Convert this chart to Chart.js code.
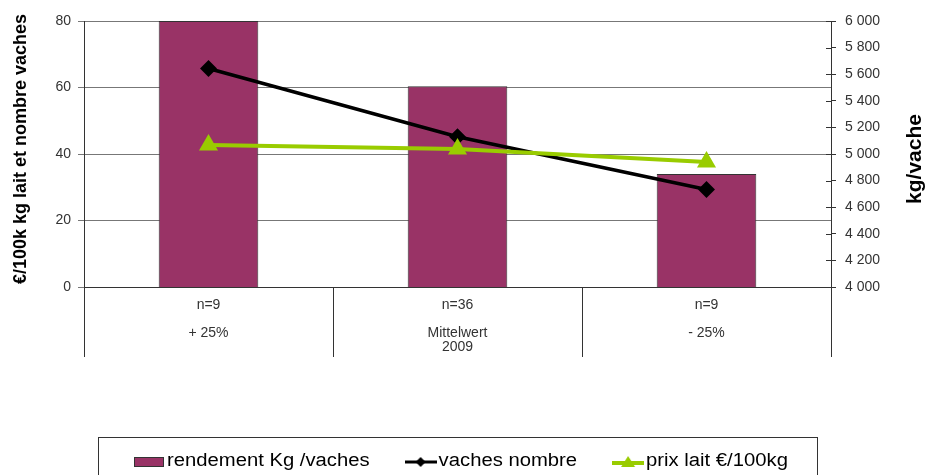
<!DOCTYPE html>
<html>
<head>
<meta charset="UTF-8">
<script src="https://cdn.jsdelivr.net/npm/chart.js"></script>
<style>
  body { margin: 0; background: #fff; }
  canvas { display: block; }
</style>
</head>
<body>
<canvas id="chart" width="929" height="475"></canvas>
<script>
// data
const groupSizes = ['n=9', 'n=36', 'n=9'];
const groupNames = [['+ 25%'], ['Mittelwert', '2009'], ['- 25%']];
const rendement = [6000, 5510, 4850];     // kg/vache, right axis
const vachesNombre = [65.7, 45.2, 29.3];  // left axis
const prixLait = [42.7, 41.5, 37.6];      // left axis
const leftTicks = [0, 20, 40, 60, 80];
const rightTicks = [4000, 4200, 4400, 4600, 4800, 5000, 5200, 5400, 5600, 5800, 6000];

const FONT = "'Liberation Sans', Arial, sans-serif";
const labels = groupSizes.map((n, i) => [n, ''].concat(groupNames[i]));

function fmt(v) { return String(v).replace(/\B(?=(\d{3})+(?!\d))/g, ' '); }

// small pictures for the legend
function legendMarker(type) {
  const c = document.createElement('canvas');
  c.width = 32; c.height = 16;
  const g = c.getContext('2d');
  if (type === 'bar') {
    c.width = 31;
    g.fillStyle = '#993366'; g.fillRect(0, 3, 30, 10);
    g.strokeStyle = '#333'; g.lineWidth = 1; g.strokeRect(0.5, 3.5, 29, 9);
  } else if (type === 'diamond') {
    g.strokeStyle = '#000'; g.lineWidth = 3;
    g.beginPath(); g.moveTo(0, 8); g.lineTo(32, 8); g.stroke();
    g.fillStyle = '#000';
    g.beginPath(); g.moveTo(16, 3); g.lineTo(21, 8); g.lineTo(16, 13); g.lineTo(11, 8); g.closePath(); g.fill();
  } else {
    g.strokeStyle = '#99cc00'; g.lineWidth = 4;
    g.beginPath(); g.moveTo(0, 9); g.lineTo(32, 9); g.stroke();
    g.fillStyle = '#99cc00';
    g.beginPath(); g.moveTo(16, 2); g.lineTo(23, 13); g.lineTo(9, 13); g.closePath(); g.fill();
  }
  return c;
}

const extras = {
  id: 'extras',
  afterDraw(chart) {
    const ctx = chart.ctx;
    const y2 = chart.scales.y2;
    // right axis ticks cross the axis line
    ctx.save();
    ctx.strokeStyle = '#333'; ctx.lineWidth = 1;
    rightTicks.forEach(v => {
      const py = Math.round(y2.getPixelForValue(v)) + 0.5;
      ctx.beginPath(); ctx.moveTo(y2.left - 5, py); ctx.lineTo(y2.left, py); ctx.stroke();
    });
    ctx.restore();

    // axis titles, both read bottom to top
    ctx.save();
    ctx.fillStyle = '#000';
    ctx.textAlign = 'center'; ctx.textBaseline = 'middle';
    ctx.translate(21, 149); ctx.rotate(-Math.PI / 2);
    ctx.font = 'bold 18px ' + FONT;
    ctx.fillText('€/100k kg lait et nombre vaches', 0, 0);
    ctx.restore();
    ctx.save();
    ctx.fillStyle = '#000';
    ctx.textAlign = 'center'; ctx.textBaseline = 'middle';
    ctx.translate(915, 159); ctx.rotate(-Math.PI / 2);
    ctx.font = 'bold 21px ' + FONT;
    ctx.fillText('kg/vache', 0, 0);
    ctx.restore();

    // legend in a box; text slightly widened like the original
    const items = chart.data.datasets.map(d => ({ text: d.label, img: legendMarker(d.legendType) }));
    ctx.save();
    ctx.font = '18px ' + FONT;
    ctx.fillStyle = '#000';
    const stretch = 1.125, gapIn = 2, gapOut = 35;
    let x = 134;
    const base = 466, mid = 462;
    items.forEach(it => {
      ctx.drawImage(it.img, x, mid - it.img.height / 2);
      x += it.img.width + gapIn;
      ctx.save();
      ctx.translate(x, base); ctx.scale(stretch, 1);
      ctx.fillText(it.text, 0, 0);
      ctx.restore();
      x += ctx.measureText(it.text).width * stretch + gapOut;
    });
    ctx.strokeStyle = '#333'; ctx.lineWidth = 1;
    ctx.strokeRect(98.5, 437.5, 719, 60);
    ctx.restore();
  }
};

new Chart(document.getElementById('chart'), {
  data: {
    labels: labels,
    datasets: [
      {
        type: 'bar', label: 'rendement Kg /vaches', legendType: 'bar',
        data: rendement, yAxisID: 'y2', order: 3,
        backgroundColor: '#993366', borderColor: '#333', borderWidth: 1,
        barPercentage: 0.4, categoryPercentage: 1
      },
      {
        type: 'line', label: 'vaches nombre', legendType: 'diamond',
        data: vachesNombre, yAxisID: 'y', order: 2,
        borderColor: '#000', borderWidth: 3.5,
        pointStyle: 'rectRot', pointRadius: 6, pointBackgroundColor: '#000', pointBorderColor: '#000'
      },
      {
        type: 'line', label: 'prix lait €/100kg', legendType: 'triangle',
        data: prixLait, yAxisID: 'y', order: 1,
        borderColor: '#99cc00', borderWidth: 4,
        pointStyle: 'triangle', pointRadius: 7, pointBackgroundColor: '#99cc00', pointBorderColor: '#99cc00'
      }
    ]
  },
  options: {
    responsive: false,
    animation: false,
    devicePixelRatio: 1,
    layout: { padding: { top: 21, left: 0, right: 0, bottom: 0 } },
    plugins: { legend: { display: false }, tooltip: { enabled: false } },
    scales: {
      x: {
        offset: true,
        grid: { offset: true, drawOnChartArea: false, tickLength: 70, color: '#333' },
        border: { display: true, color: '#333' },
        ticks: { padding: -59, color: '#333', font: { family: FONT, size: 14, lineHeight: 1.0 }, maxRotation: 0, autoSkip: false },
        afterFit: s => { s.height = 188; }
      },
      y: {
        position: 'left', min: 0, max: 80,
        afterBuildTicks: s => { s.ticks = leftTicks.map(v => ({ value: v })); },
        grid: { color: '#777', tickLength: 6 },
        border: { color: '#333' },
        ticks: { padding: 7, color: '#333', font: { family: FONT, size: 14 } },
        afterFit: s => { s.width = 84; }
      },
      y2: {
        position: 'right', min: 4000, max: 6000,
        afterBuildTicks: s => { s.ticks = rightTicks.map(v => ({ value: v })); },
        grid: { drawOnChartArea: false, tickLength: 5, color: '#333' },
        border: { color: '#333' },
        ticks: { padding: 9, color: '#333', font: { family: FONT, size: 14 }, callback: v => fmt(v) },
        afterFit: s => { s.width = 98; }
      }
    }
  },
  plugins: [extras]
});
</script>
</body>
</html>
